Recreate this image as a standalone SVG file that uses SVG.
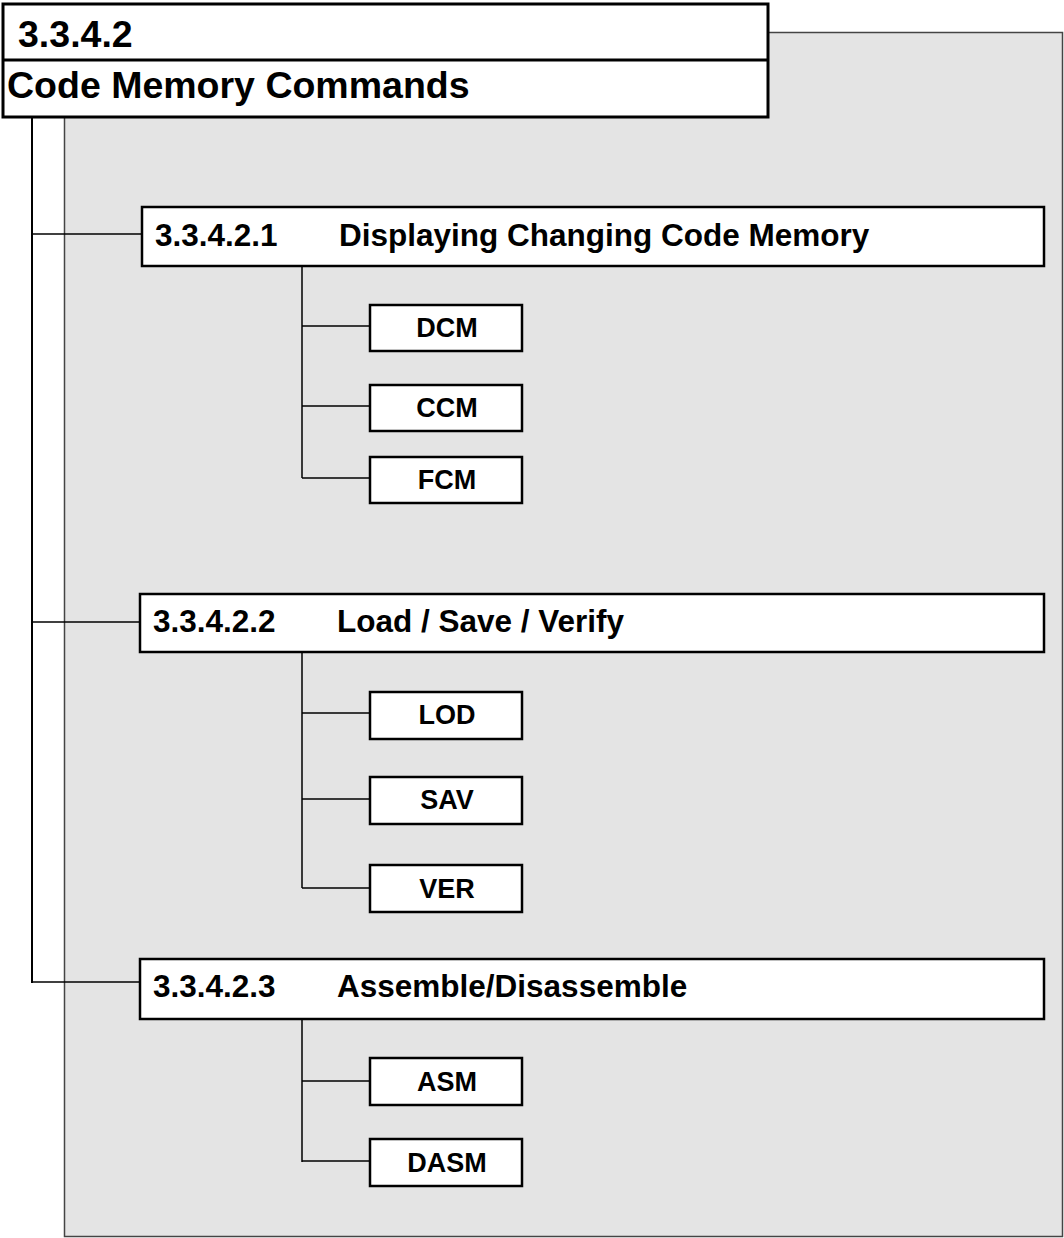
<svg xmlns="http://www.w3.org/2000/svg" width="1064" height="1238" viewBox="0 0 1064 1238">
<style>
.box{fill:#fff;stroke:#000;stroke-width:2.5}
.title{fill:#fff;stroke:#000;stroke-width:3}
.line{stroke:#000;stroke-width:1.5;fill:none}
.t{font-family:"Liberation Sans",Arial,sans-serif;font-weight:bold;fill:#000}
.h{font-size:37.5px}
.s{font-size:31.5px}
.l{font-size:27px;text-anchor:middle}
</style>
<rect x="0" y="0" width="1064" height="1238" fill="#fff"/>
<rect id="panel" x="64.5" y="32.5" width="998" height="1204" fill="#e4e4e4" stroke="#444" stroke-width="1.5"/>
<g id="connectors">
<line class="line" x1="32" y1="117" x2="32" y2="983" style="stroke-width:2"/>
<line class="line" x1="32" y1="234" x2="142" y2="234"/>
<line class="line" x1="32" y1="622" x2="140" y2="622"/>
<line class="line" x1="31" y1="982" x2="140" y2="982"/>
<line class="line" x1="302" y1="266" x2="302" y2="478"/>
<line class="line" x1="302" y1="326" x2="370" y2="326"/>
<line class="line" x1="302" y1="406" x2="370" y2="406"/>
<line class="line" x1="302" y1="478" x2="370" y2="478"/>
<line class="line" x1="302" y1="652" x2="302" y2="888"/>
<line class="line" x1="302" y1="713" x2="370" y2="713"/>
<line class="line" x1="302" y1="799" x2="370" y2="799"/>
<line class="line" x1="302" y1="888" x2="370" y2="888"/>
<line class="line" x1="302" y1="1019" x2="302" y2="1162"/>
<line class="line" x1="302" y1="1081" x2="370" y2="1081"/>
<line class="line" x1="302" y1="1161" x2="370" y2="1161"/>
</g>
<g id="title">
<rect class="title" x="3" y="4" width="765" height="113"/>
<line x1="3" y1="60" x2="768" y2="60" stroke="#000" stroke-width="3"/>
<text class="t h" x="18" y="47">3.3.4.2</text>
<text class="t h" x="7" y="98">Code Memory Commands</text>
</g>
<g id="sec1">
<rect class="box" x="142" y="207" width="902" height="59"/>
<text class="t s" x="155" y="246">3.3.4.2.1</text>
<text class="t s" x="339" y="246">Displaying Changing Code Memory</text>
</g>
<g id="dcm"><rect class="box" x="370" y="305" width="152" height="46"/><text class="t l" x="447" y="337">DCM</text></g>
<g id="ccm"><rect class="box" x="370" y="385" width="152" height="46"/><text class="t l" x="447" y="417">CCM</text></g>
<g id="fcm"><rect class="box" x="370" y="457" width="152" height="46"/><text class="t l" x="447" y="489">FCM</text></g>
<g id="sec2">
<rect class="box" x="140" y="594" width="904" height="58"/>
<text class="t s" x="153" y="632">3.3.4.2.2</text>
<text class="t s" x="337" y="632">Load / Save / Verify</text>
</g>
<g id="lod"><rect class="box" x="370" y="692" width="152" height="47"/><text class="t l" x="447" y="724">LOD</text></g>
<g id="sav"><rect class="box" x="370" y="777" width="152" height="47"/><text class="t l" x="447" y="809">SAV</text></g>
<g id="ver"><rect class="box" x="370" y="865" width="152" height="47"/><text class="t l" x="447" y="898">VER</text></g>
<g id="sec3">
<rect class="box" x="140" y="959" width="904" height="60"/>
<text class="t s" x="153" y="997">3.3.4.2.3</text>
<text class="t s" x="337" y="997">Assemble/Disassemble</text>
</g>
<g id="asm"><rect class="box" x="370" y="1058" width="152" height="47"/><text class="t l" x="447" y="1091">ASM</text></g>
<g id="dasm"><rect class="box" x="370" y="1139" width="152" height="47"/><text class="t l" x="447" y="1172">DASM</text></g>
</svg>
